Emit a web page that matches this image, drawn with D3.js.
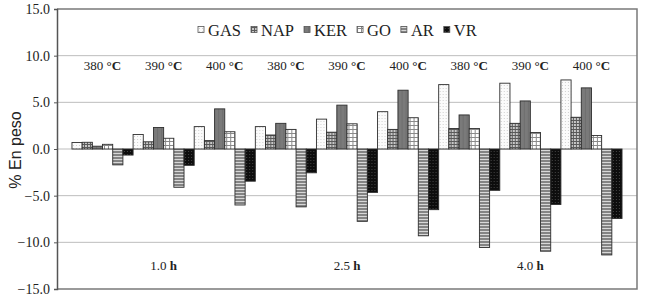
<!DOCTYPE html>
<meta charset="utf-8">
<script src="https://d3js.org/d3.v7.min.js"></script>
<style>
  body { margin: 0; background: #fff; }
  svg text { font-family: "Liberation Serif", "Times New Roman", serif; fill: #222; }
</style>
<div id="chart"></div>
<script>
// values (% en peso)
const times = ["1.0", "2.5", "4.0"];
const temps = ["380", "390", "400"];
const series = ["GAS", "NAP", "KER", "GO", "AR", "VR"];
const gas = [0.70, 1.55, 2.40, 2.40, 3.20, 4.00, 6.90, 7.05, 7.40];
const nap = [0.72, 0.77, 0.90, 1.50, 1.80, 2.10, 2.20, 2.75, 3.40];
const ker = [0.30, 2.30, 4.30, 2.75, 4.70, 6.30, 3.65, 5.15, 6.55];
const go  = [0.50, 1.15, 1.85, 2.10, 2.70, 3.35, 2.20, 1.77, 1.45];
const ar  = [-1.70, -4.10, -6.00, -6.20, -7.75, -9.30, -10.55, -10.95, -11.35];
const vr  = [-0.65, -1.75, -3.45, -2.55, -4.65, -6.50, -4.43, -5.95, -7.45];
const yTicks = [15, 10, 5, 0, -5, -10, -15];

const W = 652, H = 304;
const margin = {top: 9, right: 15, bottom: 15, left: 57};
const width = W - margin.left - margin.right,
      height = H - margin.top - margin.bottom;

// one row per (time, temperature) group
const groups = [];
times.forEach(t => temps.forEach(tp => groups.push({time: t, temp: tp})));
const allSeries = [gas, nap, ker, go, ar, vr];
groups.forEach((g, i) => {
  g.key = g.time + "|" + g.temp;
  g.values = series.map((s, j) => ({series: s, value: allSeries[j][i]}));
});

const svg = d3.select("#chart").append("svg")
  .attr("width", W).attr("height", H);

// fill patterns, like the old excel hatches
const defs = svg.append("defs");
function pat(id, size, bg, draw) {
  const p = defs.append("pattern").attr("id", id)
    .attr("patternUnits", "userSpaceOnUse").attr("width", size).attr("height", size);
  p.append("rect").attr("width", size).attr("height", size).attr("fill", bg);
  draw(p);
}
pat("p-gas", 3, "#fbfbfb", p => p.append("rect").attr("x", 1).attr("y", 1).attr("width", 1).attr("height", 1).attr("fill", "#d0d0d0"));
pat("p-nap", 3, "#c8c8c8", p => {
  p.append("rect").attr("width", 3).attr("height", 1).attr("fill", "#5a5a5a");
  p.append("rect").attr("width", 1).attr("height", 3).attr("fill", "#5a5a5a");
});
pat("p-ker", 4, "#7a7a7a", p => p.append("rect").attr("width", 1).attr("height", 4).attr("fill", "#6e6e6e"));
pat("p-go", 4, "#ffffff", p => {
  p.append("rect").attr("width", 4).attr("height", 1).attr("fill", "#8a8a8a");
  p.append("rect").attr("width", 1).attr("height", 4).attr("fill", "#8a8a8a");
});
pat("p-ar", 3, "#848484", p => p.append("rect").attr("width", 3).attr("height", 1).attr("fill", "#d8d8d8"));
pat("p-vr", 3, "#0d0d0d", p => p.append("rect").attr("x", 1).attr("y", 1).attr("width", 1).attr("height", 1).attr("fill", "#444"));
const fills = {GAS: "url(#p-gas)", NAP: "url(#p-nap)", KER: "url(#p-ker)", GO: "url(#p-go)", AR: "url(#p-ar)", VR: "url(#p-vr)"};

const g = svg.append("g").attr("transform", `translate(${margin.left},${margin.top})`);

const y = d3.scaleLinear().domain([-15, 15]).range([height, 0]);
const x = d3.scaleBand().domain(groups.map(d => d.key)).range([0, width])
  .paddingInner(0).paddingOuter(0.245);
const xs = d3.scaleBand().domain(series).range([0, x.bandwidth()]).padding(0);

// grid lines
g.append("g").selectAll("line")
  .data(yTicks.filter(t => t !== 15 && t !== -15))
  .join("line")
  .attr("x1", 0).attr("x2", width)
  .attr("y1", d => y(d)).attr("y2", d => y(d))
  .attr("stroke", "#bdbdbd").attr("stroke-width", 1);

// frame top/right/bottom
g.append("path")
  .attr("d", `M0,${y(15)}H${width}V${y(-15)}H0`)
  .attr("fill", "none").attr("stroke", "#7a7a7a").attr("stroke-width", 1.5);

// y axis
const yAxis = g.append("g")
  .call(d3.axisLeft(y).tickValues(yTicks).tickSize(3).tickPadding(4).tickFormat(d3.format(".1f")));
yAxis.select(".domain").attr("stroke", "#555").attr("stroke-width", 1.5);
yAxis.selectAll(".tick line").attr("stroke", "#555");
yAxis.selectAll("text").style("font-size", "14px").attr("fill", "#222");

// bars
g.append("g").selectAll("g")
  .data(groups)
  .join("g")
  .attr("transform", d => `translate(${x(d.key)},0)`)
  .selectAll("rect")
  .data(d => d.values)
  .join("rect")
  .attr("x", d => xs(d.series))
  .attr("width", xs.bandwidth())
  .attr("y", d => y(Math.max(0, d.value)))
  .attr("height", d => Math.abs(y(d.value) - y(0)))
  .attr("fill", d => fills[d.series])
  .attr("stroke", "#2e2e2e")
  .attr("stroke-width", 0.9);

// temperature labels
const tl = g.append("g").selectAll("text")
  .data(groups)
  .join("text")
  .attr("x", d => x(d.key) + x.bandwidth() / 2)
  .attr("y", 61)
  .attr("text-anchor", "middle")
  .style("font-size", "13px");
tl.append("tspan").text(d => d.temp + " ");
tl.append("tspan").style("font-weight", "bold").text("°C");

// time labels under the middle group of each block
const ml = g.append("g").selectAll("text")
  .data(groups.filter(d => d.temp === temps[1]))
  .join("text")
  .attr("x", d => x(d.key) + x.bandwidth() / 2)
  .attr("y", 261)
  .attr("text-anchor", "middle")
  .style("font-size", "13px");
ml.append("tspan").text(d => d.time + " ");
ml.append("tspan").style("font-weight", "bold").text("h");

// legend
const leg = svg.append("g").attr("transform", "translate(198,36)");
let lx = 0;
series.forEach(s => {
  const it = leg.append("g").attr("transform", `translate(${lx},0)`);
  it.append("rect").attr("x", 0).attr("y", -9.5).attr("width", 6).attr("height", 6)
    .attr("fill", fills[s]).attr("stroke", "#555").attr("stroke-width", 0.8);
  const t = it.append("text").attr("x", 10).attr("y", 0).style("font-size", "16.5px").text(s);
  lx += 10 + t.node().getComputedTextLength() + 10;
});

// y title
svg.append("text")
  .attr("transform", `translate(21,${margin.top + y(0) + 1}) rotate(-90)`)
  .attr("text-anchor", "middle")
  .style("font-family", "'Liberation Sans', Arial, sans-serif")
  .style("font-size", "16px")
  .text("% En peso");
</script>
